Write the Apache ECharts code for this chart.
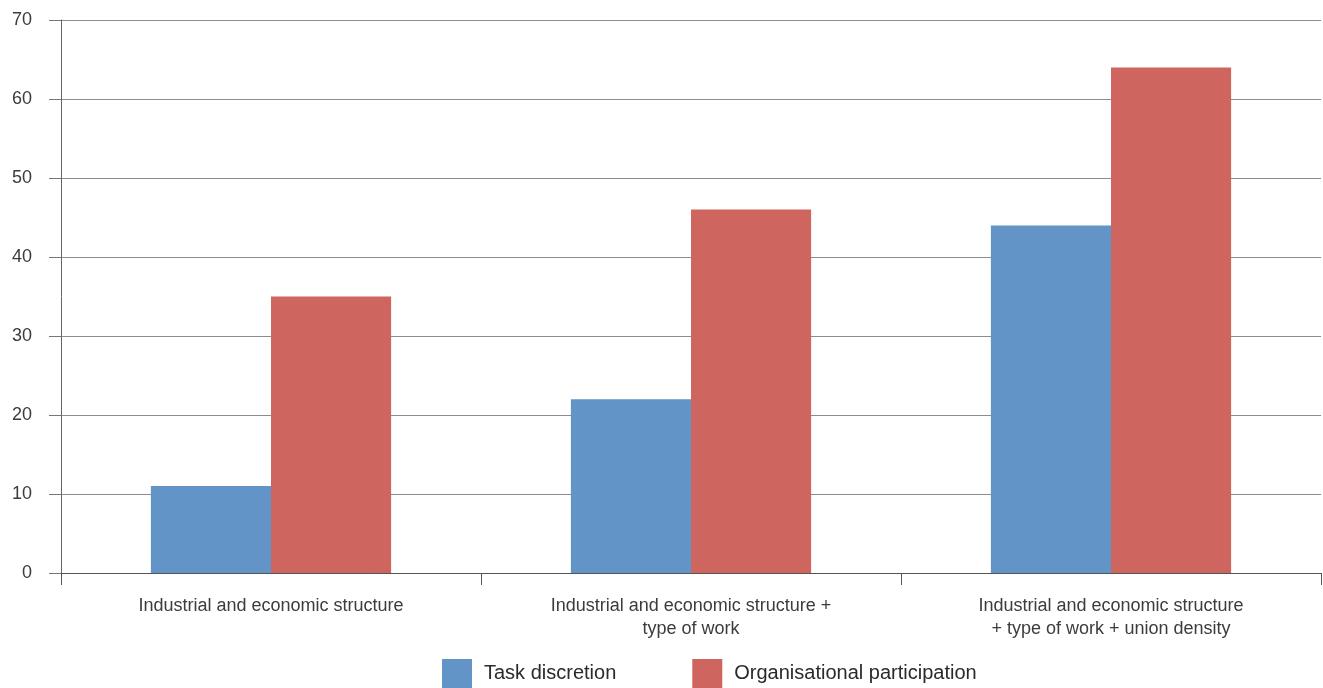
<!DOCTYPE html>
<html>
<head>
<meta charset="utf-8">
<script src="https://cdn.jsdelivr.net/npm/echarts@6/dist/echarts.min.js"></script>
<style>
html,body{margin:0;padding:0;background:#fff;}
#chart{width:1323px;height:688px;}
</style>
</head>
<body>
<div id="chart"></div>
<script>
const categories = [
  "Industrial and economic structure",
  "Industrial and economic structure +\ntype of work",
  "Industrial and economic structure\n+ type of work + union density"
];
const taskDiscretion = [11, 22, 44];
const organisationalParticipation = [35, 46, 64];
const seriesNames = ["Task discretion", "Organisational participation"];
const yTicks = { min: 0, max: 70, interval: 10 };

const chart = echarts.init(document.getElementById('chart'), null, {renderer: 'canvas'});
const font = "'Liberation Sans', Arial, Helvetica, sans-serif";
chart.setOption({
  animation: false,
  backgroundColor: '#ffffff',
  grid: { left: 61, right: 2, top: 20, bottom: 115, containLabel: false },
  legend: {
    data: seriesNames,
    left: 442,
    top: 659,
    padding: 0,
    itemWidth: 30,
    itemHeight: 29,
    itemGap: 76,
    icon: 'rect',
    textStyle: { fontFamily: font, fontSize: 20, color: '#2a2a2a', padding: [0, 0, 0, 7] }
  },
  xAxis: {
    type: 'category',
    data: categories,
    axisLine: { show: true, lineStyle: { color: '#555', width: 1 } },
    axisTick: { show: true, length: 12, alignWithLabel: false, lineStyle: { color: '#555' } },
    axisLabel: { fontFamily: font, fontSize: 18, color: '#3c3c3c', margin: 22, lineHeight: 23, interval: 0 },
    splitLine: { show: false }
  },
  yAxis: {
    type: 'value',
    min: yTicks.min,
    max: yTicks.max,
    interval: yTicks.interval,
    axisLine: { show: true, lineStyle: { color: '#666', width: 1 } },
    axisTick: { show: true, length: 12, inside: false, lineStyle: { color: '#777' } },
    axisLabel: { fontFamily: font, fontSize: 18, color: '#3c3c3c', margin: 29 },
    splitLine: { show: true, lineStyle: { color: '#8c8c8c', width: 1 } }
  },
  series: [
    {
      name: seriesNames[0],
      type: 'bar',
      data: taskDiscretion,
      barGap: '0%',
      barCategoryGap: '42.8%',
      itemStyle: { color: '#6394c8' }
    },
    {
      name: seriesNames[1],
      type: 'bar',
      data: organisationalParticipation,
      barGap: '0%',
      barCategoryGap: '42.8%',
      itemStyle: { color: '#cf655f' }
    }
  ]
});
</script>
</body>
</html>
